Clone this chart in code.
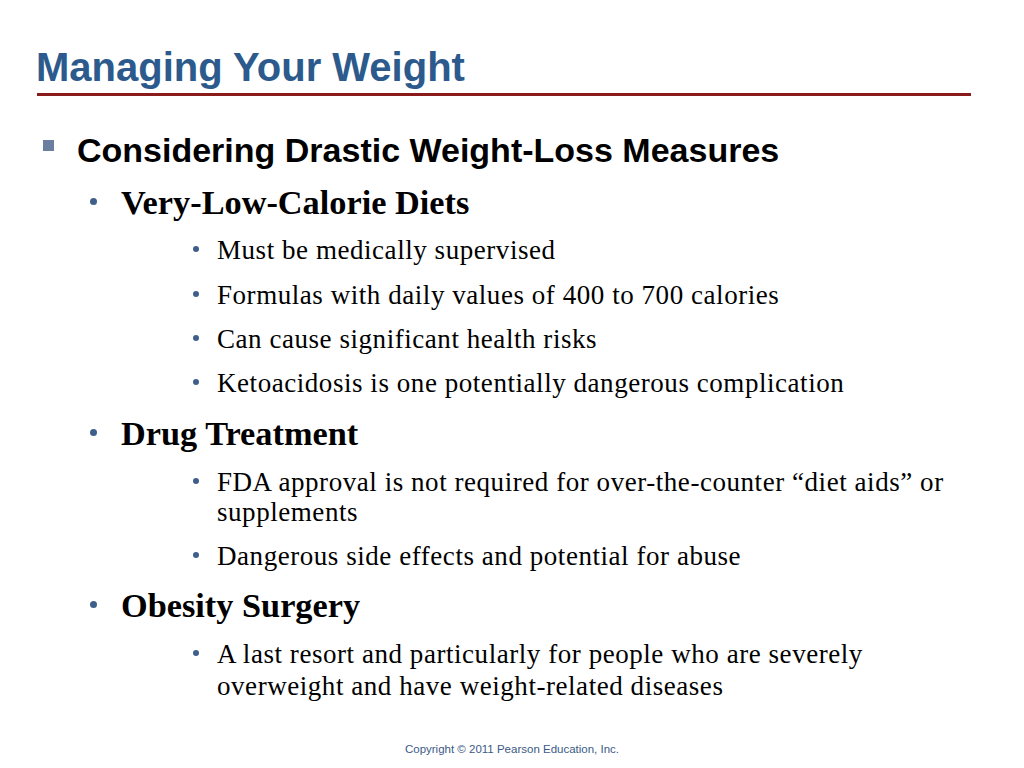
<!DOCTYPE html>
<html>
<head>
<meta charset="utf-8">
<script src="https://cdn.jsdelivr.net/npm/chart.js@4"></script>
<style>
  html, body { margin: 0; padding: 0; background: #fff; }
  #slide { position: relative; width: 1024px; height: 768px; overflow: hidden; }
  .t { position: absolute; white-space: nowrap; line-height: 1; }
  #title { left: 36px; top: 45px; font: bold 40px "Liberation Sans", Arial, sans-serif; color: #2c5a8c; }
  #rule { position: absolute; left: 37px; top: 93px; width: 934px; height: 3px; background: #8b1a1a; }
  .l1 { font: bold 34px "Liberation Sans", Arial, sans-serif; color: #000; left: 77px; }
  .l2 { font: bold 34.3px "Liberation Serif", "Times New Roman", serif; color: #000; left: 121px; }
  .l3 { font: 27px "Liberation Serif", "Times New Roman", serif; letter-spacing: 0.55px; color: #000; left: 217px; }
  .sq { position: absolute; left: 43px; width: 11px; height: 11px; background: #6a7fa0; }
  .dot { position: absolute; border-radius: 50%; background: #3e5f8a; }
  #copy { left: 0; width: 1024px; text-align: center; top: 743px; font: 11.5px "Liberation Sans", Arial, sans-serif; color: #3b5a86; }
</style>
</head>
<body>
<div id="slide">
  <div id="title" class="t">Managing Your Weight</div>
  <div id="rule"></div>
  <div id="copy" class="t">Copyright © 2011 Pearson Education, Inc.</div>
</div>
<script>
// slide lines: level, text, centre y of the line, bullet or not
const levels = [1, 2, 3, 3, 3, 3, 2, 3, 3, 3, 2, 3, 3]
const texts = [
  "Considering Drastic Weight-Loss Measures",
  "Very-Low-Calorie Diets",
  "Must be medically supervised",
  "Formulas with daily values of 400 to 700 calories",
  "Can cause significant health risks",
  "Ketoacidosis is one potentially dangerous complication",
  "Drug Treatment",
  "FDA approval is not required for over-the-counter \u201cdiet aids\u201d or",
  "supplements",
  "Dangerous side effects and potential for abuse",
  "Obesity Surgery",
  "A last resort and particularly for people who are severely",
  "overweight and have weight-related diseases"
]
const centres = [148, 200, 248, 293, 337, 381, 431, 480, 510, 554, 603, 652, 684]
const bullets = [true, true, true, true, true, true, true, true, false, true, true, true, false]

const slide = document.getElementById("slide")
const sizes = { 1: 34, 2: 34.3, 3: 27 }

texts.forEach((txt, i) => {
  const lv = levels[i]
  const div = document.createElement("div")
  div.className = "t l" + lv
  div.textContent = txt
  div.style.top = (centres[i] - sizes[lv] / 2) + "px"
  slide.appendChild(div)
  if (!bullets[i]) return
  const b = document.createElement("div")
  if (lv === 1) {
    b.className = "sq"
    b.style.top = (centres[i] - 8) + "px"
  } else {
    const d = lv === 2 ? 7 : 6
    b.className = "dot"
    b.style.width = d + "px"
    b.style.height = d + "px"
    b.style.left = (lv === 2 ? 90 : 193) + "px"
    b.style.top = (centres[i] - 2) + "px"
  }
  slide.appendChild(b)
})
</script>
</body>
</html>
